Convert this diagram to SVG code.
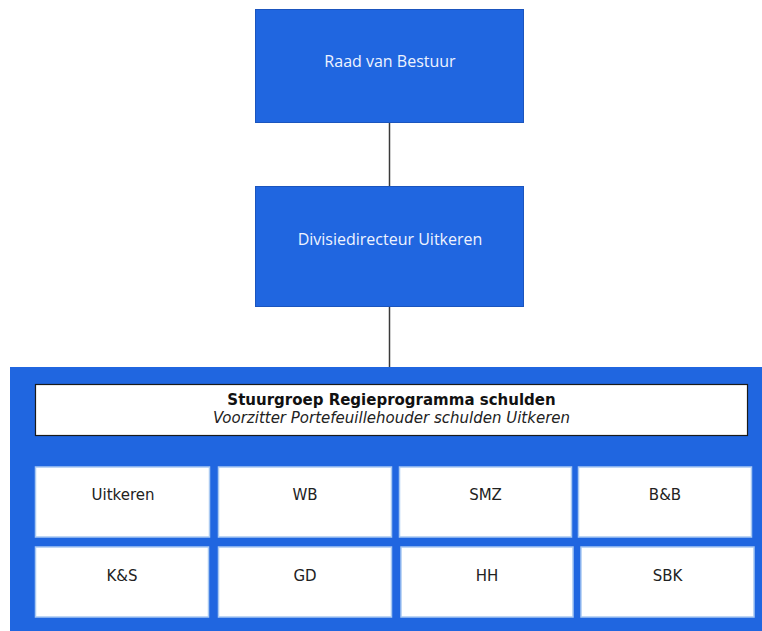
<svg xmlns="http://www.w3.org/2000/svg" width="762" height="631" viewBox="0 0 762 631">
  <style>
    .blue { fill: #2066E0; stroke: #1B55BE; stroke-width: 1; }
    .wt { font-family: "Open Sans", "Liberation Sans", sans-serif; font-size: 16px; fill: #EEF3FF; text-anchor: middle; }
    .cell { fill: #FFFFFF; stroke: #A9C9F2; stroke-width: 1.5; }
    .ct { font-family: "DejaVu Sans", Verdana, sans-serif; font-size: 15px; fill: #222; text-anchor: middle; }
    .conn { stroke: #3A3A3A; stroke-width: 1.5; fill: none; }
  </style>
  <rect width="762" height="631" fill="#FFFFFF"/>
  <g id="connectors">
    <line class="conn" x1="389.5" y1="122" x2="389.5" y2="187"/>
    <line class="conn" x1="389.5" y1="306" x2="389.5" y2="367"/>
  </g>
  <g id="raad">
    <rect class="blue" x="255.5" y="9.5" width="268" height="113"/>
    <text class="wt" x="390" y="67">Raad van Bestuur</text>
  </g>
  <g id="divisiedirecteur">
    <rect class="blue" x="255.5" y="186.5" width="268" height="120"/>
    <text class="wt" x="390" y="245">Divisiedirecteur Uitkeren</text>
  </g>
  <g id="stuurgroep">
    <rect x="10" y="367" width="752" height="264" fill="#2066E0"/>
    <rect x="35.5" y="384.5" width="712" height="51" fill="#FFFFFF" stroke="#1A1A1A" stroke-width="1.2"/>
    <text x="391.5" y="405" font-family="DejaVu Sans, Verdana, sans-serif" font-size="15" font-weight="bold" fill="#111" text-anchor="middle">Stuurgroep Regieprogramma schulden</text>
    <text x="391.5" y="423" font-family="DejaVu Sans, Verdana, sans-serif" font-size="15" font-style="italic" fill="#222" text-anchor="middle">Voorzitter Portefeuillehouder schulden Uitkeren</text>
  </g>
  <g id="uitkeren">
    <rect class="cell" x="35.5" y="467" width="174" height="70"/>
    <text class="ct" x="123" y="500">Uitkeren</text>
  </g>
  <g id="wb">
    <rect class="cell" x="218.5" y="467" width="173" height="70"/>
    <text class="ct" x="305" y="500">WB</text>
  </g>
  <g id="smz">
    <rect class="cell" x="399.5" y="467" width="172" height="70"/>
    <text class="ct" x="485.5" y="500">SMZ</text>
  </g>
  <g id="bb">
    <rect class="cell" x="578.5" y="467" width="173" height="70"/>
    <text class="ct" x="665" y="500">B&amp;B</text>
  </g>
  <g id="ks">
    <rect class="cell" x="35.5" y="547" width="173" height="70"/>
    <text class="ct" x="122" y="581">K&amp;S</text>
  </g>
  <g id="gd">
    <rect class="cell" x="218.5" y="547" width="173" height="70"/>
    <text class="ct" x="305" y="581">GD</text>
  </g>
  <g id="hh">
    <rect class="cell" x="401" y="547" width="172" height="70"/>
    <text class="ct" x="487" y="581">HH</text>
  </g>
  <g id="sbk">
    <rect class="cell" x="581" y="547" width="173" height="70"/>
    <text class="ct" x="667.5" y="581">SBK</text>
  </g>
</svg>
